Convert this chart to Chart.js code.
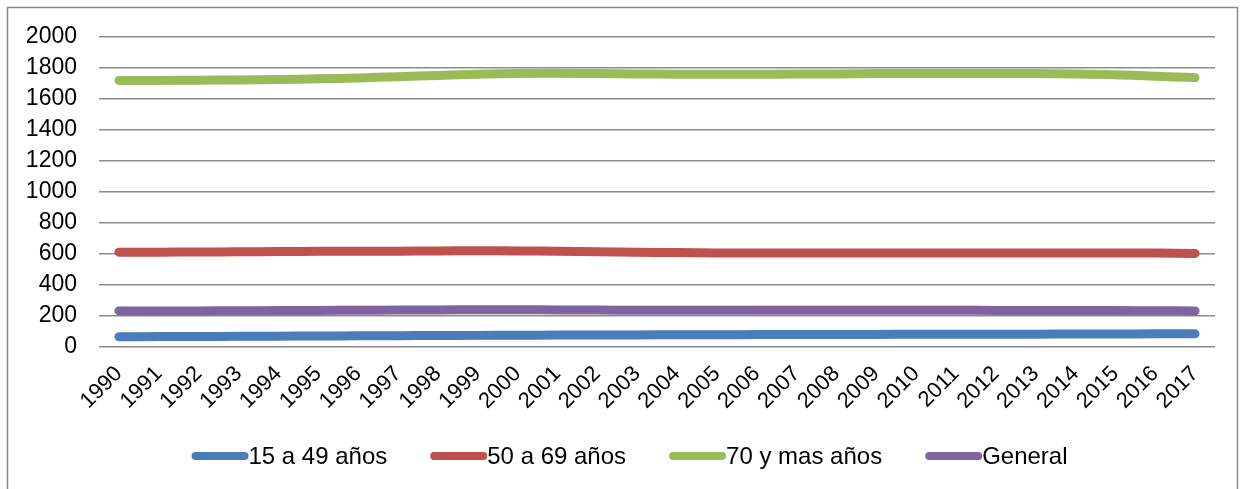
<!DOCTYPE html>
<html>
<head>
<meta charset="utf-8">
<script src="https://cdn.jsdelivr.net/npm/chart.js@4.4.1/dist/chart.umd.min.js"></script>
<style>
  html, body { margin: 0; padding: 0; background: #ffffff; }
  #wrap { position: relative; width: 1244px; height: 489px; }
</style>
</head>
<body>
<div id="wrap"><canvas id="chart" width="1244" height="489"></canvas></div>
<script>
// Years on the category axis
const years = ['1990','1991','1992','1993','1994','1995','1996','1997','1998','1999',
  '2000','2001','2002','2003','2004','2005','2006','2007','2008','2009',
  '2010','2011','2012','2013','2014','2015','2016','2017'];

// Series per age group
const age15to49 = [66, 67, 68, 69, 70, 71, 72, 73, 74, 75, 76, 77, 77, 78, 79, 79, 80, 80, 81, 81, 82, 82, 83, 83, 84, 84, 85, 85];
const age50to69 = [612, 612, 613, 614, 616, 617, 617, 618, 620, 621, 620, 618, 614, 611, 609, 607, 606, 606, 606, 606, 606, 607, 607, 607, 607, 607, 606, 604];
const age70plus = [1720, 1720, 1721, 1723, 1726, 1730, 1736, 1744, 1752, 1760, 1765, 1766, 1764, 1762, 1760, 1760, 1760, 1761, 1762, 1764, 1765, 1765, 1765, 1764, 1762, 1757, 1747, 1738];
const general   = [233, 233, 233, 234, 235, 236, 237, 238, 239, 240, 240, 239, 238, 237, 237, 237, 237, 237, 237, 237, 237, 237, 236, 236, 235, 235, 234, 233];

// Series names
const seriesNames = ['15 a 49 años', '50 a 69 años', '70 y mas años', 'General'];

// Y axis range and step
const yMin = 0;
const yMax = 2000;
const yStep = 200;

const colors = ['#4a7ebb', '#c0504d', '#9bbb59', '#8064a2'];
const FONT = 'Arial, "Liberation Sans", sans-serif';

// Outer frame around the whole chart
const framePlugin = {
  id: 'frame',
  afterDraw(chart) {
    const ctx = chart.ctx;
    ctx.save();
    ctx.strokeStyle = '#8a8a8a';
    ctx.lineWidth = 1.5;
    ctx.strokeRect(7.5, 7.5, 1230, 490);
    ctx.restore();
  }
};

// Legend: thick line sample immediately followed by its label
const legendPlugin = {
  id: 'lineLegend',
  afterDraw(chart) {
    const ctx = chart.ctx;
    const sample = 57, gap = 43, cy = 456;
    ctx.save();
    ctx.font = '24px ' + FONT;
    ctx.textBaseline = 'middle';
    const ds = chart.data.datasets;
    const widths = ds.map(d => ctx.measureText(d.label).width);
    let total = widths.reduce((a, b) => a + b, 0) + ds.length * sample + (ds.length - 1) * gap;
    let x = 629.5 - total / 2;
    ds.forEach((d, i) => {
      ctx.strokeStyle = d.borderColor;
      ctx.lineWidth = 8;
      ctx.lineCap = 'round';
      ctx.beginPath();
      ctx.moveTo(x + 4, cy);
      ctx.lineTo(x + sample - 4, cy);
      ctx.stroke();
      ctx.fillStyle = '#000000';
      ctx.fillText(d.label, x + sample, cy + 1);
      x += sample + widths[i] + gap;
    });
    ctx.restore();
  }
};

const seriesData = [age15to49, age50to69, age70plus, general];

new Chart(document.getElementById('chart'), {
  type: 'line',
  data: {
    labels: years,
    datasets: seriesData.map((vals, i) => ({
      label: seriesNames[i],
      data: vals,
      borderColor: colors[i],
      backgroundColor: colors[i],
      borderWidth: 9,
      borderCapStyle: 'round',
      borderJoinStyle: 'round',
      pointRadius: 0,
      pointHoverRadius: 0,
      tension: 0.4,
      fill: false
    }))
  },
  options: {
    responsive: false,
    animation: false,
    events: [],
    layout: { padding: { top: 37, right: 29, bottom: 0, left: 0 } },
    plugins: {
      legend: { display: false },
      tooltip: { enabled: false },
      title: { display: false }
    },
    scales: {
      x: {
        offset: true,
        grid: { display: false, drawTicks: false },
        border: { display: false },
        ticks: {
          autoSkip: false,
          minRotation: 45,
          maxRotation: 45,
          padding: 14,
          color: '#000000',
          font: { family: FONT, size: 22 }
        },
        afterFit(scale) { scale.height = 142; }
      },
      y: {
        min: yMin,
        max: yMax,
        grid: { color: '#8c8c8c', lineWidth: 1.5, drawTicks: false },
        border: { display: false },
        ticks: {
          stepSize: yStep,
          padding: 22,
          color: '#000000',
          font: { family: FONT, size: 23 },
          callback: (v) => String(v)
        },
        afterFit(scale) { scale.width = 99; }
      }
    }
  },
  plugins: [framePlugin, legendPlugin]
});
</script>
</body>
</html>
